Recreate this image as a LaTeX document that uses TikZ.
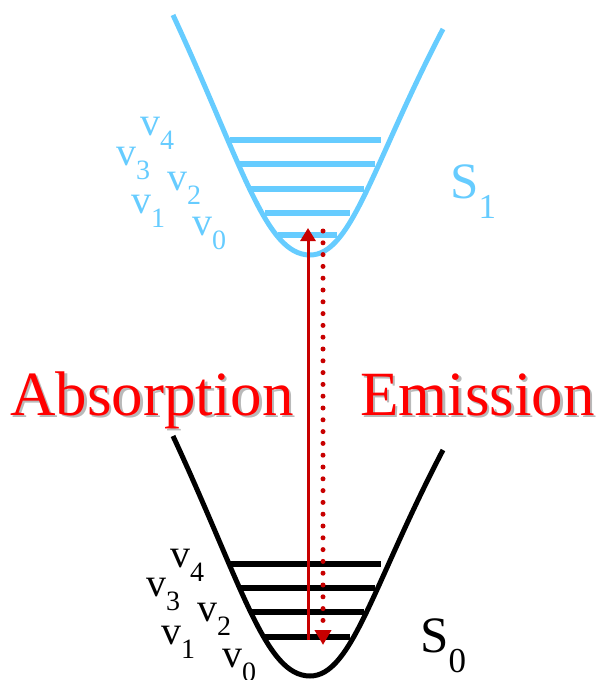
\documentclass[tikz,border=0pt]{standalone}
\usepackage{fontspec}
\setmainfont{Liberation Serif}
\usetikzlibrary{arrows.meta}
\definecolor{skyb}{RGB}{102,204,255}
\definecolor{arrred}{RGB}{200,0,0}
\definecolor{txtred}{RGB}{255,0,0}
\definecolor{shadowgray}{RGB}{185,185,185}
\newcommand\vsub[1]{v\raisebox{-14pt}{\fontsize{28}{28}\selectfont #1}}
\newcommand\ssub[1]{S\raisebox{-20pt}{\fontsize{35}{35}\selectfont #1}}
\begin{document}
\begin{tikzpicture}[x=1pt,y=-1pt,
  well/.style={line width=5pt},
  levelline/.style={line width=6pt},
  vlab/.style={anchor=base west, inner sep=0pt, font=\fontsize{40}{40}\selectfont},
  slab/.style={anchor=base west, inner sep=0pt, font=\fontsize{51}{51}\selectfont},
  bigtxt/.style={anchor=base west, inner sep=0pt, font=\fontsize{63}{63}\selectfont},
  shadowtxt/.style={bigtxt, text=shadowgray},
  redtxt/.style={bigtxt, text=txtred}]
\useasboundingbox (0,0) rectangle (598,680);
% S1 well
\draw[well, skyb] (173,15) .. controls (242.6,165) and (265,255) .. (310,255)
   .. controls (352,255) and (373.4,162) .. (443,29);
\draw[levelline, skyb] (230,140) -- (381,140);
\draw[levelline, skyb] (239,164) -- (375,164);
\draw[levelline, skyb] (250,189) -- (364,189);
\draw[levelline, skyb] (265,213) -- (350,213);
\draw[levelline, skyb] (278,235) -- (337,235);
% S0 well
\begin{scope}[shift={(0,421)}]
\draw[well, black] (173,15) .. controls (242.6,165) and (265,255) .. (310,255)
   .. controls (352,255) and (373.4,162) .. (443,29);
\end{scope}
\draw[levelline, black] (230,564) -- (381,564);
\draw[levelline, black] (239,588) -- (375,588);
\draw[levelline, black] (249,612) -- (364,612);
\draw[levelline, black] (265,637) -- (350,637);
% labels S1
\node[vlab, text=skyb] (tv4) at (140,135) {\vsub{4}};
\node[vlab, text=skyb] (tv3) at (116,165) {\vsub{3}};
\node[vlab, text=skyb] (tv2) at (167,190) {\vsub{2}};
\node[vlab, text=skyb] (tv1) at (131,213) {\vsub{1}};
\node[vlab, text=skyb] (tv0) at (192,235) {\vsub{0}};
\node[slab, text=skyb] (s1) at (450,198) {\ssub{1}};
% labels S0
\node[vlab] (bv4) at (170,567) {\vsub{4}};
\node[vlab] (bv3) at (146,596) {\vsub{3}};
\node[vlab] (bv2) at (197,621) {\vsub{2}};
\node[vlab] (bv1) at (161,644) {\vsub{1}};
\node[vlab] (bv0) at (222,667) {\vsub{0}};
\node[slab] (s0) at (420,652) {\ssub{0}};
% arrows
\coordinate (absS) at (308,640);
\coordinate (absE) at (308,228);
\draw[arrred, line width=3pt, -{Triangle[length=13pt,width=15pt]}] (absS) -- (absE);
\coordinate (emS) at (323,231);
\coordinate (emE) at (323,645);
\draw[arrred, line width=5pt, line cap=round, dash pattern=on 0pt off 11.8pt,
  -{Triangle[length=15pt,width=16pt]}] (emS) -- (emE);
% texts
\node[shadowtxt] (absh) at (12.5,417.5) {Absorption};
\node[redtxt] (abs) at (10,415) {Absorption};
\node[shadowtxt] (emsh) at (362.5,417.5) {Emission};
\node[redtxt] (em) at (360,415) {Emission};
\end{tikzpicture}
\end{document}
